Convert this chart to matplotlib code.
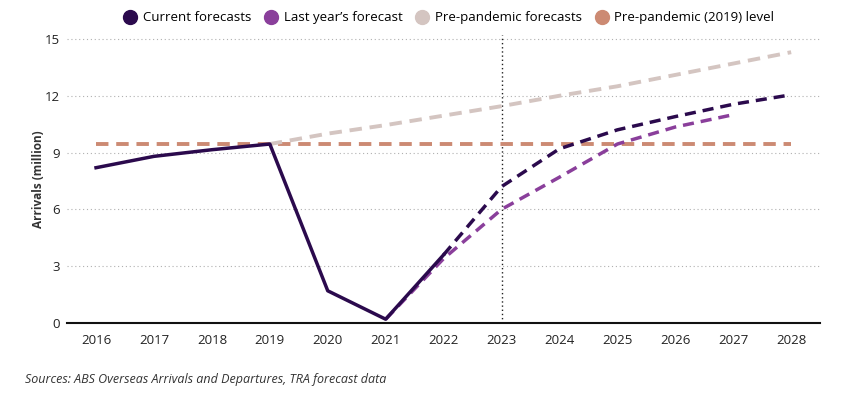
import matplotlib
matplotlib.use("Agg")
import matplotlib.pyplot as plt
from matplotlib.lines import Line2D

plt.rcParams['font.family'] = ['Open Sans', 'DejaVu Sans']

years = list(range(2016, 2029))
current_actual_years = [2016, 2017, 2018, 2019, 2020, 2021, 2022]
current_actual = [8.2, 8.8, 9.15, 9.45, 1.7, 0.2, 3.6]
current_fc_years = [2022, 2023, 2024, 2025, 2026, 2027, 2028]
current_fc = [3.6, 7.2, 9.2, 10.2, 10.9, 11.55, 12.05]
lastyear_years = [2021, 2022, 2023, 2024, 2025, 2026, 2027]
lastyear_fc = [0.2, 3.4, 6.0, 7.7, 9.45, 10.35, 11.0]
prepand_years = [2019, 2020, 2021, 2022, 2023, 2024, 2025, 2026, 2027, 2028]
prepand_fc = [9.45, 10.0, 10.45, 10.95, 11.45, 12.0, 12.5, 13.1, 13.7, 14.3]
level_years = [2016, 2028]
level_val = [9.45, 9.45]
yticks = [0, 3, 6, 9, 12, 15]

c_cur = '#2b0a4d'
c_last = '#8a3f9b'
c_pre = '#d4c5c1'
c_lvl = '#cc8a73'

fig = plt.figure(figsize=(8.49, 4.04), dpi=100)
ax = fig.add_axes([0.079, 0.2005, 0.887, 0.7125])

ax.plot(level_years, level_val, color=c_lvl, lw=2.8, dashes=(3.2, 2.0), zorder=2)
ax.plot(prepand_years, prepand_fc, color=c_pre, lw=2.8, dashes=(3.2, 2.0), zorder=2)
ax.plot(lastyear_years, lastyear_fc, color=c_last, lw=2.5, dashes=(3.2, 2.0), zorder=3)
ax.plot(current_fc_years, current_fc, color=c_cur, lw=2.5, dashes=(3.2, 2.0), zorder=4)
ax.plot(current_actual_years, current_actual, color=c_cur, lw=2.5, zorder=5)

ax.axvline(2023, color='#222222', lw=1, ls=(0, (1, 2)), zorder=1)

ax.set_xlim(2015.5, 2028.5)
ax.set_ylim(0, 15.2)
ax.set_yticks(yticks)
ax.set_xticks(years)
ax.set_xticklabels([str(y) for y in years])
ax.grid(axis='y', color='#b0b0b0', lw=0.8, ls=(0, (1, 2.5)))
ax.set_axisbelow(True)
for s in ['top', 'right', 'left']:
    ax.spines[s].set_visible(False)
ax.spines['bottom'].set_color('#111111')
ax.spines['bottom'].set_linewidth(1.5)
ax.tick_params(axis='both', length=0, labelsize=9.5, colors='#222222')
ax.tick_params(axis='x', pad=8)
ax.tick_params(axis='y', pad=5)
ax.set_ylabel('Arrivals (million)', fontsize=8.5, fontweight='bold', color='#333333', labelpad=0)

handles = [Line2D([], [], marker='o', ls='none', markersize=10, color=c) for c in [c_cur, c_last, c_pre, c_lvl]]
labels = ['Current forecasts', "Last year\u2019s forecast", 'Pre-pandemic forecasts', 'Pre-pandemic (2019) level']
fig.legend(handles, labels, loc='center', bbox_to_anchor=(0.528, 0.956), ncol=4, frameon=False,
           fontsize=9.5, handletextpad=0.35, columnspacing=0.9, handlelength=1.2)

fig.text(0.03, 0.06, 'Sources: ABS Overseas Arrivals and Departures, TRA forecast data',
         fontsize=9, style='italic', color='#333333', ha='left', va='center')

fig.savefig('out.png', dpi=100)
